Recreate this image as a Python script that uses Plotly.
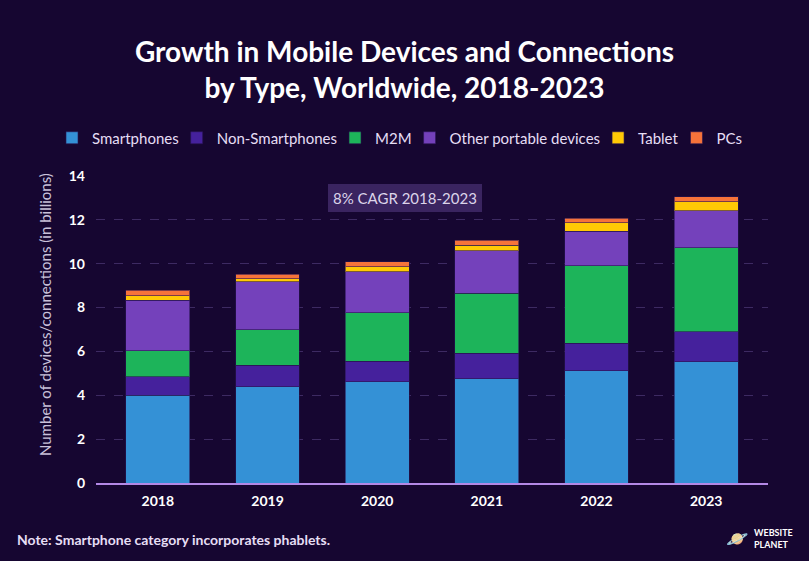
import plotly.graph_objects as go

years = ["2018", "2019", "2020", "2021", "2022", "2023"]
smartphones = [4.00, 4.38, 4.61, 4.76, 5.12, 5.53]
non_smartphones = [0.85, 1.00, 0.94, 1.15, 1.25, 1.36]
m2m = [1.18, 1.61, 2.22, 2.75, 3.54, 3.84]
other_portable = [2.30, 2.19, 1.87, 1.93, 1.57, 1.69]
tablet = [0.20, 0.14, 0.23, 0.26, 0.39, 0.41]
pcs = [0.25, 0.21, 0.21, 0.22, 0.20, 0.23]

series = [
    ("Smartphones", smartphones, "#3491d6"),
    ("Non-Smartphones", non_smartphones, "#45219c"),
    ("M2M", m2m, "#1db45a"),
    ("Other portable devices", other_portable, "#7441bb"),
    ("Tablet", tablet, "#ffc905"),
    ("PCs", pcs, "#f6733a"),
]

BG = "#160631"
FONT = "Lato, 'Open Sans', sans-serif"
PL, PR, PT, PB = 96, 768, 176, 483
PW, PH = PR - PL, PB - PT

def px(x):
    return (x - PL) / PW

def py(y):
    return (PB - y) / PH

fig = go.Figure()
for name, vals, col in series:
    fig.add_trace(go.Bar(
        x=years, y=vals, name=name,
        marker=dict(color=col, line=dict(color="rgba(40,20,80,0.6)", width=1)),
    ))

fig.update_layout(
    width=809, height=561,
    barmode="stack", bargap=0.417,
    paper_bgcolor=BG, plot_bgcolor=BG,
    margin=dict(l=PL, r=809 - PR, t=PT, b=561 - PB, autoexpand=False),
    font=dict(family=FONT, color="#ffffff"),
    title=dict(
        text="<b>Growth in Mobile Devices and Connections<br>by Type, Worldwide, 2018-2023</b>",
        x=0.5, xanchor="center", yref="container", y=1 - 62 / 561, yanchor="middle",
        font=dict(size=28, color="#ffffff", family=FONT),
    ),
    legend=dict(
        orientation="h", xref="paper", x=px(59), xanchor="left",
        yref="paper", y=py(138), yanchor="middle",
        font=dict(size=15, color="#e6def5", family=FONT),
        bgcolor="rgba(0,0,0,0)", traceorder="normal", itemwidth=30,
        indentation=-7,
    ),
    xaxis=dict(
        range=[-0.564, 5.564], showgrid=False, zeroline=False,
        showline=True, linecolor="#b488e6", linewidth=2,
        tickfont=dict(size=14, color="#ffffff", family=FONT),
        tickprefix="<b>", ticksuffix="</b>", ticks="", ticklen=0,
        ticklabelstandoff=4,
    ),
    yaxis=dict(
        range=[0, 14], dtick=2, showgrid=True, gridcolor="#3d2a62",
        griddash="dash", gridwidth=1, zeroline=False, showline=False,
        tickfont=dict(size=14, color="#ffffff", family=FONT),
        tickprefix="<b>", ticksuffix="</b>", ticks="", ticklen=0,
        ticklabelstandoff=10,
    ),
)

fig.add_annotation(
    xref="paper", yref="paper", x=px(45), y=py(315),
    xanchor="center", yanchor="middle", textangle=-90, showarrow=False,
    text="Number of devices/connections (in billions)",
    font=dict(size=15, color="#c9c1da", family=FONT),
)

fig.add_annotation(
    xref="paper", yref="paper", x=px(404.7), y=py(198),
    xanchor="center", yanchor="middle",
    text="8% CAGR 2018-2023", showarrow=False,
    font=dict(size=15, color="#dcd4ea", family=FONT),
    bgcolor="#3a2460", bordercolor="#3a2460", borderwidth=1, borderpad=4,
)

fig.add_annotation(
    xref="paper", yref="paper", x=px(15), y=py(539),
    xanchor="left", yanchor="middle",
    text="<b>Note: Smartphone category incorporates phablets.</b>",
    showarrow=False, font=dict(size=14, color="#e6def5", family=FONT),
)

fig.add_annotation(
    xref="paper", yref="paper", x=px(752), y=py(538),
    xanchor="left", yanchor="middle", showarrow=False,
    text="<b>WEBSITE<br>PLANET</b>", align="left",
    font=dict(size=9, color="#ffffff", family=FONT),
)
fig.add_annotation(
    xref="paper", yref="paper", x=px(737), y=py(538),
    xanchor="center", yanchor="middle", showarrow=False,
    text="🪐", font=dict(size=18, color="#ffffff"),
)

fig.write_html(
    "out.html",
    config={"displayModeBar": False},
    post_script="document.body.style.margin='0';document.body.style.background='" + BG + "';",
)
